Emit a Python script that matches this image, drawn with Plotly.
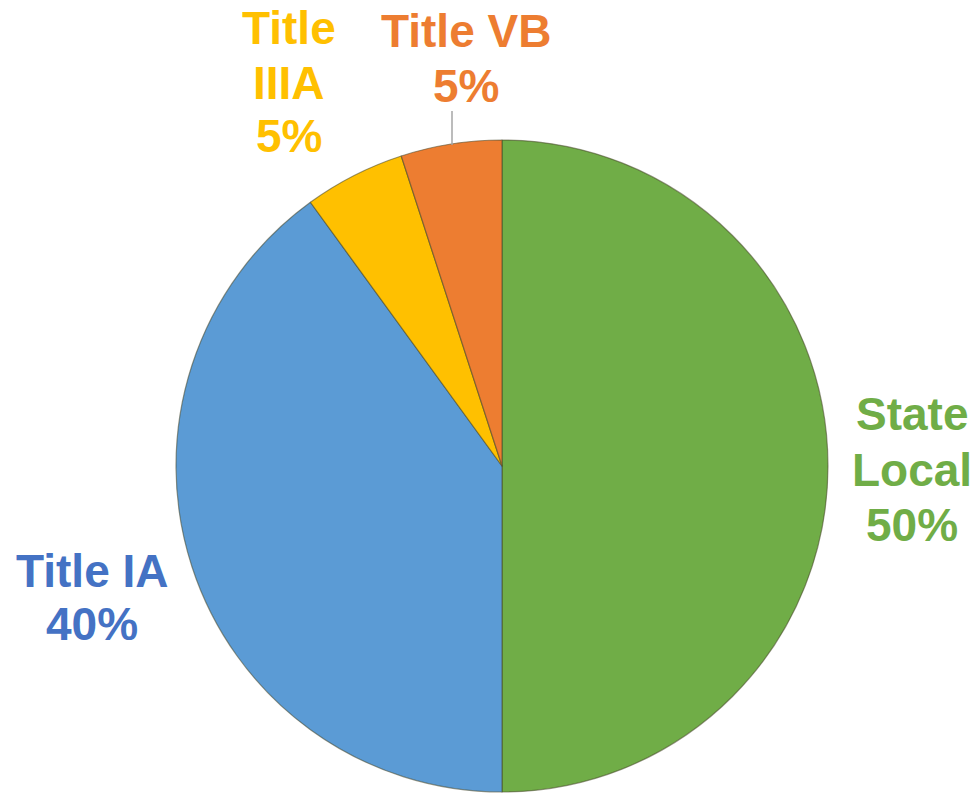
import plotly.graph_objects as go

labels = ["State Local", "Title IA", "Title IIIA", "Title VB"]
label_lines = [["State", "Local"], ["Title IA"], ["Title", "IIIA"], ["Title VB"]]
values = [50, 40, 5, 5]
slice_colors = ["#70AD47", "#5B9BD5", "#FFC000", "#ED7D31"]
text_colors = ["#70AD47", "#4472C4", "#FFC000", "#ED7D31"]

W, H = 980, 795
# baseline y of each label line (pixels) and x centre
label_x = [912, 92, 289, 466]
label_base = [[428, 484, 539], [585, 638], [42, 97, 150], [45, 100]]
FS = 46

def px(x):
    return x / W

def py(y):
    return 1 - y / H

fig = go.Figure()
fig.add_trace(go.Pie(
    labels=labels,
    values=values,
    sort=False,
    direction="clockwise",
    rotation=0,
    textinfo="none",
    hoverinfo="label+percent",
    marker=dict(colors=slice_colors, line=dict(color="rgba(70,70,40,0.55)", width=1.2)),
    domain=dict(x=[px(176), px(828)], y=[py(792), py(140)]),
    showlegend=False,
))

total = sum(values)
for lines, v, col, x, bases in zip(label_lines, values, text_colors, label_x, label_base):
    all_lines = lines + [f"{round(100 * v / total)}%"]
    for line, b in zip(all_lines, bases):
        fig.add_annotation(
            x=px(x), y=py(b - 14), xref="paper", yref="paper",
            text=line,
            showarrow=False,
            font=dict(family="Liberation Sans, Arial, sans-serif", size=FS, color=col, weight="bold"),
            align="center", xanchor="center", yanchor="middle",
        )

# leader line for Title VB
fig.add_shape(type="line", xref="paper", yref="paper",
              x0=px(452), x1=px(452), y0=py(111), y1=py(145),
              line=dict(color="#A6A6A6", width=1.5))

fig.update_layout(
    width=W, height=H,
    margin=dict(l=0, r=0, t=0, b=0),
    paper_bgcolor="white", plot_bgcolor="white",
)

fig.write_html("out.html", config={"displayModeBar": False},
               post_script="document.body.style.margin='0';")
